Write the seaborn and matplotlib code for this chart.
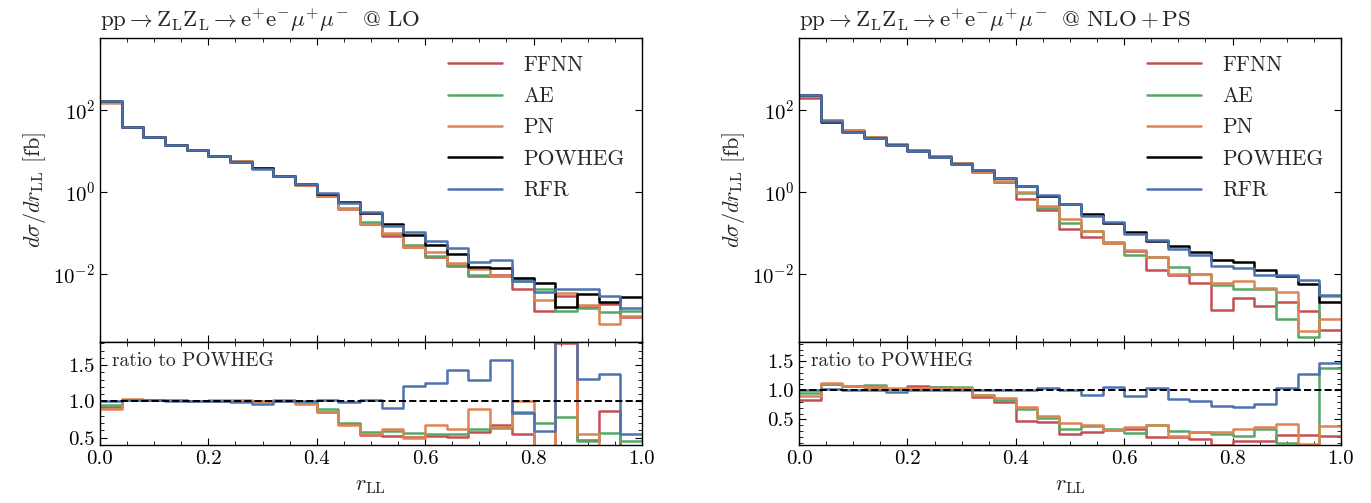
import numpy as np
import pandas as pd
import matplotlib
matplotlib.use("Agg")
import matplotlib.pyplot as plt
from matplotlib.lines import Line2D
from matplotlib.ticker import (FixedLocator, NullLocator, MultipleLocator,
                               LogFormatterSciNotation, FormatStrFormatter)
import seaborn as sns

# ---------------------------------------------------------------- data
# r_LL binning: 25 bins of width 0.04 on [0, 1]
edges = np.linspace(0.0, 1.0, 26)

# d sigma / d r_LL [fb], leading order
lo_powheg = [166, 38, 21.5, 13.8, 10.3, 7.3, 5.5, 3.8, 2.45, 1.54, 0.91, 0.555,
             0.31, 0.163, 0.089, 0.050, 0.030, 0.015, 0.0138, 0.00785, 0.0062,
             0.0016, 0.0033, 0.0021, 0.00275]
lo_ffnn = [152.7, 38.8, 21.9, 14.1, 10.4, 7.37, 5.56, 3.8, 2.47, 1.51, 0.783,
           0.383, 0.167, 0.0848, 0.0454, 0.0265, 0.0153, 0.0087, 0.0094, 0.0043,
           0.00126, 0.0029, 0.00155, 0.00183, 0.0009]
lo_ae = [158.5, 38.8, 21.9, 14.1, 10.4, 7.37, 5.56, 3.84, 2.5, 1.52, 0.81,
         0.394, 0.18, 0.096, 0.0498, 0.0273, 0.0167, 0.0093, 0.0088, 0.0067,
         0.00434, 0.00126, 0.0015, 0.0012, 0.00126]
lo_pn = [148.6, 39.1, 21.9, 14.1, 10.4, 7.45, 5.6, 3.8, 2.45, 1.49, 0.774,
         0.377, 0.169, 0.101, 0.0445, 0.0335, 0.0186, 0.0134, 0.0090, 0.00785,
         0.0023, 0.0034, 0.0018, 0.00062, 0.00095]
lo_rfr = [166, 38.8, 21.9, 13.8, 10.3, 7.3, 5.45, 3.69, 2.45, 1.54, 0.93, 0.55,
          0.316, 0.148, 0.108, 0.0625, 0.0432, 0.0194, 0.0216, 0.0066, 0.0037,
          0.0044, 0.0043, 0.0029, 0.0015]

# d sigma / d r_LL [fb], NLO + parton shower
nlo_powheg = [232, 51, 29.5, 20, 14.1, 10, 7.1, 4.9, 3.4, 2.16, 1.4, 0.80,
              0.50, 0.286, 0.179, 0.106, 0.064, 0.0483, 0.035, 0.022, 0.020,
              0.0123, 0.0089, 0.0056, 0.0021]
nlo_ffnn = [195, 56.6, 31.6, 21.2, 14.5, 10.7, 7.46, 5.05, 3.03, 1.73, 0.672,
            0.368, 0.125, 0.080, 0.0555, 0.036, 0.0128, 0.0097, 0.006, 0.00132,
            0.0026, 0.00166, 0.0021, 0.00126, 0.00044]
nlo_ae = [220, 56.1, 31.6, 21.8, 14.5, 10.4, 7.53, 5.19, 3.13, 1.79, 0.94,
          0.416, 0.17, 0.110, 0.059, 0.0286, 0.0256, 0.0145, 0.0098, 0.0053,
          0.0042, 0.0042, 0.00082, 0.0003, 0.0029]
nlo_pn = [211, 57, 31.6, 21.2, 14.7, 10.4, 7.38, 5.1, 3.13, 1.86, 1.01, 0.448,
          0.22, 0.114, 0.058, 0.039, 0.0262, 0.0101, 0.0098, 0.0062, 0.0068,
          0.00455, 0.00374, 0.00041, 0.00082]
nlo_rfr = [232, 52, 29.5, 20, 13.8, 10, 7.1, 4.9, 3.4, 2.16, 1.4, 0.832, 0.50,
           0.265, 0.19, 0.0965, 0.0666, 0.041, 0.0284, 0.0161, 0.0142, 0.0095,
           0.0093, 0.0072, 0.0031]

labels = ["FFNN", "AE", "PN", "POWHEG", "RFR"]
process = r"$\mathrm{pp}\rightarrow\mathrm{Z_L Z_L}\rightarrow\mathrm{e}^{+}\mathrm{e}^{-}\mu^{+}\mu^{-}\;$"
titles = [process + r" @ LO",
          process + r" @ $\mathrm{NLO} + \mathrm{PS}$"]

# ---------------------------------------------------------------- style
sns.set_style("ticks")
pal = sns.color_palette("deep")
colors = {"FFNN": pal[3], "AE": pal[2], "PN": pal[1], "POWHEG": "black", "RFR": pal[0]}

plt.rcParams.update({
    "font.family": "serif",
    "font.serif": ["cmr10"],
    "mathtext.fontset": "cm",
    "axes.formatter.use_mathtext": True,
    "axes.unicode_minus": True,
    "axes.linewidth": 1.0,
    "axes.edgecolor": "black",
    "xtick.direction": "in",
    "ytick.direction": "in",
    "xtick.top": True,
    "ytick.right": True,
    "xtick.major.size": 5,
    "ytick.major.size": 5,
    "xtick.minor.size": 2.8,
    "ytick.minor.size": 2.8,
    "xtick.labelsize": 15,
    "ytick.labelsize": 15,
    "xtick.color": "black",
    "ytick.color": "black",
})

fig = plt.figure(figsize=(13.71, 5.03), dpi=100)

centers = 0.5 * (edges[:-1] + edges[1:])
bin_list = edges.tolist()
lw = 1.8


def step(ax, values, color):
    df = pd.DataFrame({"r": centers, "w": np.asarray(values, dtype=float)})
    sns.histplot(data=df, x="r", weights="w", bins=bin_list, element="step",
                 fill=False, color=color, linewidth=lw, ax=ax)


panels = [
    (0.0729, {"FFNN": lo_ffnn, "AE": lo_ae, "PN": lo_pn, "POWHEG": lo_powheg, "RFR": lo_rfr},
     (0.40, 1.82)),
    (0.5828, {"FFNN": nlo_ffnn, "AE": nlo_ae, "PN": nlo_pn, "POWHEG": nlo_powheg, "RFR": nlo_rfr},
     (0.06, 1.83)),
]

for i, (x0, series, rlim) in enumerate(panels):
    ax = fig.add_axes([x0, 0.320, 0.3953, 0.6044])
    rax = fig.add_axes([x0, 0.1153, 0.3953, 0.2048], sharex=ax)

    ax.set_yscale("log")
    ref = np.asarray(series["POWHEG"], dtype=float)
    for name in labels:
        vals = np.asarray(series[name], dtype=float)
        step(ax, vals, colors[name])
        if name != "POWHEG":
            step(rax, vals / ref, colors[name])
    rax.axhline(1.0, color="black", ls="--", lw=1.4, zorder=10)

    # main panel
    ax.set_xlim(0, 1)
    ax.set_ylim(2.2e-4, 5.6e3)
    ax.yaxis.set_major_locator(FixedLocator([1e-2, 1e0, 1e2]))
    ax.yaxis.set_minor_locator(NullLocator())
    ax.yaxis.set_major_formatter(LogFormatterSciNotation())
    ax.xaxis.set_major_locator(MultipleLocator(0.2))
    ax.xaxis.set_minor_locator(MultipleLocator(0.05))
    ax.tick_params(axis="x", labelbottom=False)
    ax.set_xlabel("")
    ax.set_ylabel(r"$d\sigma/dr_\mathrm{LL}$ [fb]", fontsize=16, labelpad=4)
    ax.set_title(titles[i], loc="left", fontsize=16.5, pad=8)

    handles = [Line2D([], [], color=colors[n], lw=lw) for n in labels]
    ax.legend(handles, labels, loc="upper right", frameon=False, fontsize=15.5,
              handlelength=2.5, handletextpad=1.0, labelspacing=0.55,
              borderaxespad=0.4)

    # ratio panel
    rax.set_ylim(*rlim)
    rax.yaxis.set_major_locator(FixedLocator([0.5, 1.0, 1.5]))
    rax.yaxis.set_minor_locator(MultipleLocator(0.1))
    rax.yaxis.set_major_formatter(FormatStrFormatter("%.1f"))
    rax.xaxis.set_major_formatter(FormatStrFormatter("%.1f"))
    rax.set_ylabel("")
    rax.set_xlabel(r"$r_\mathrm{LL}$", fontsize=16, labelpad=6)
    rax.text(0.022, 0.90, "ratio to POWHEG", transform=rax.transAxes,
             ha="left", va="top", fontsize=14)

    for a in (ax, rax):
        for s in a.spines.values():
            s.set_visible(True)
            s.set_color("black")

fig.savefig("out.png", dpi=100)
